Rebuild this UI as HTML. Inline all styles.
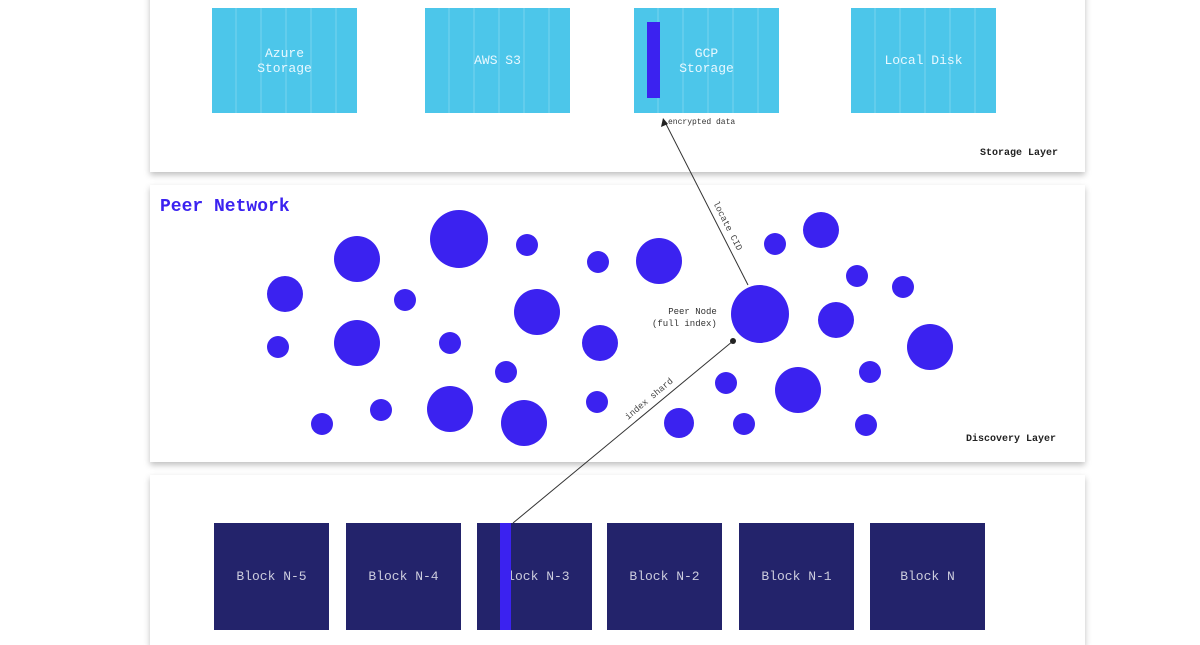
<!DOCTYPE html>
<html><head><style>
body{margin:0;width:1200px;height:630px;background:#fff;overflow:hidden;position:relative;font-family:"Liberation Mono",monospace}
.p{position:absolute;left:150px;width:935px;background:#fff;box-shadow:0 3px 6px rgba(0,0,0,.25)}
.s{position:absolute;top:8px;width:145px;height:105px;background:#4cc6ea;color:#e8f8ff;font-size:13px;display:flex;align-items:center;justify-content:center;text-align:center;background-image:repeating-linear-gradient(90deg,transparent 0 23px,rgba(255,255,255,.12) 23px 25px)}
.b{position:absolute;top:523px;width:115px;height:107px;background:#23236b;color:#ccd;font-size:13px;display:flex;align-items:center;justify-content:center}
.sm{position:absolute;font-size:8px;color:#333}
</style></head><body>
<div class="p" style="top:-10px;height:182px"></div>
<div class="p" style="top:185px;height:277px"></div>
<div class="p" style="top:475px;height:170px"></div>
<div class="s" style="left:212px">Azure<br>Storage</div>
<div class="s" style="left:425px">AWS S3</div>
<div class="s" style="left:634px">GCP<br>Storage</div>
<div style="position:absolute;left:647px;top:22px;width:13px;height:76px;background:#3b22f0"></div>
<div class="s" style="left:851px">Local Disk</div>
<div class="sm" style="left:668px;top:118px">encrypted data</div>
<div class="sm" style="left:980px;top:148px;font-weight:bold;font-size:10px;color:#222">Storage Layer</div>
<div style="position:absolute;left:160px;top:197px;color:#3b22f0;font-size:18px;font-weight:bold">Peer Network</div>
<div class="sm" style="left:966px;top:434px;font-weight:bold;font-size:10px;color:#222">Discovery Layer</div>
<div class="sm" style="left:652px;top:306px;text-align:right;line-height:12px;font-size:9px">Peer Node<br>(full index)</div>
<div class="b" style="left:214px">Block N-5</div>
<div class="b" style="left:346px">Block N-4</div>
<div class="b" style="left:477px">Block N-3</div>
<div style="position:absolute;left:500px;top:523px;width:11px;height:107px;background:#3b22f0"></div>
<div class="b" style="left:607px">Block N-2</div>
<div class="b" style="left:739px">Block N-1</div>
<div class="b" style="left:870px">Block N</div>
<svg width="1200" height="630" style="position:absolute;left:0;top:0">
<g fill="#3b22f0">
<circle cx="285" cy="294" r="18"/><circle cx="357" cy="259" r="23"/><circle cx="459" cy="239" r="29"/><circle cx="527" cy="245" r="11"/><circle cx="598" cy="262" r="11"/><circle cx="659" cy="261" r="23"/><circle cx="405" cy="300" r="11"/><circle cx="537" cy="312" r="23"/><circle cx="278" cy="347" r="11"/><circle cx="357" cy="343" r="23"/><circle cx="450" cy="343" r="11"/><circle cx="600" cy="343" r="18"/><circle cx="506" cy="372" r="11"/><circle cx="322" cy="424" r="11"/><circle cx="381" cy="410" r="11"/><circle cx="450" cy="409" r="23"/><circle cx="524" cy="423" r="23"/><circle cx="597" cy="402" r="11"/><circle cx="679" cy="423" r="15"/><circle cx="726" cy="383" r="11"/><circle cx="744" cy="424" r="11"/><circle cx="760" cy="314" r="29"/><circle cx="775" cy="244" r="11"/><circle cx="821" cy="230" r="18"/><circle cx="857" cy="276" r="11"/><circle cx="903" cy="287" r="11"/><circle cx="836" cy="320" r="18"/><circle cx="930" cy="347" r="23"/><circle cx="798" cy="390" r="23"/><circle cx="870" cy="372" r="11"/><circle cx="866" cy="425" r="11"/>
</g>
<line x1="513" y1="523" x2="733" y2="341" stroke="#333" stroke-width="1"/>
<circle cx="733" cy="341" r="3" fill="#222"/>
<line x1="748" y1="285" x2="665" y2="122" stroke="#333" stroke-width="1"/>
<polygon points="663,118 661,127 668,124" fill="#222"/>
<text x="0" y="0" font-size="9" fill="#444" font-family="Liberation Mono" transform="translate(628,420) rotate(-40)">index shard</text>
<text x="0" y="0" font-size="9" fill="#444" font-family="Liberation Mono" transform="translate(713,203) rotate(63)">locate CID</text>
</svg>
</body></html>
